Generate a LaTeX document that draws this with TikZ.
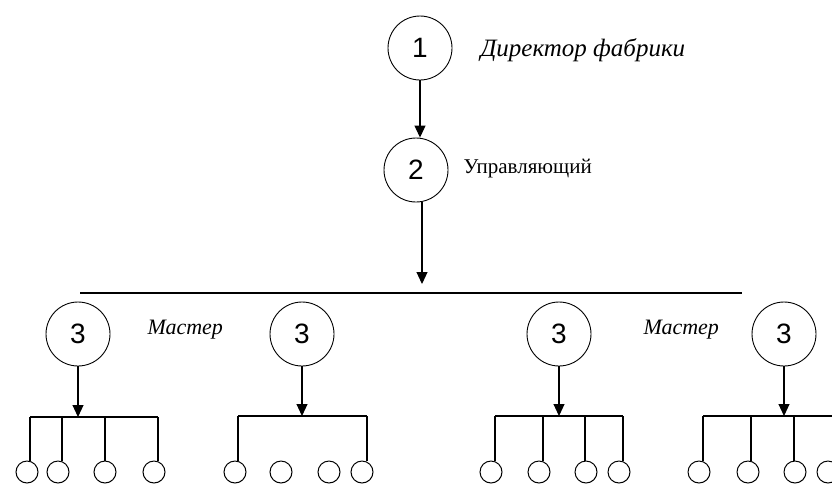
\documentclass[tikz,border=0pt]{standalone}
\usepackage{fontspec}
\setmainfont{Liberation Serif}
\newfontfamily\numfont{Liberation Sans}
\usetikzlibrary{arrows.meta}
\begin{document}
\begin{tikzpicture}[x=1pt,y=-1pt,
  line width=1.1pt,
  bigcirc/.style={circle,draw,line width=0.9pt,minimum size=64pt,inner sep=0pt,
    font=\numfont\fontsize{28}{28}\selectfont},
  smallcirc/.style={circle,draw,line width=1pt,minimum size=22pt,inner sep=0pt},
  arr/.style={-{Triangle[length=12pt,width=11pt]}},
  rolelabel/.style={anchor=west,inner sep=0pt,font=\itshape\fontsize{22}{22}\selectfont},
  plainlabel/.style={anchor=west,inner sep=0pt,font=\fontsize{21}{21}\selectfont}]
\useasboundingbox (0,0) rectangle (832,483);

% top of the hierarchy
\node[bigcirc] (n1) at (420,48) {1};
\node[rolelabel,font=\itshape\fontsize{25}{25}\selectfont] (l1) at (480,50) {Директор фабрики};
\node[bigcirc] (n2) at (416,170) {2};
\node[plainlabel] (l2) at (463,169) {Управляющий};
\draw[arr] (n1.south) -- (n1.south |- n2.north);
\coordinate (a2) at (422,284);
\draw[arr] (n2.south -| a2) -- (a2);

% common bus
\coordinate (busL) at (80,293);
\coordinate (busR) at (742,293);
\draw (busL) -- (busR);

% masters
\node[bigcirc] (m1) at (78,334) {3};
\node[bigcirc] (m2) at (302,334) {3};
\node[bigcirc] (m3) at (559,334) {3};
\node[bigcirc] (m4) at (784,334) {3};
\node[rolelabel] (lm1) at (147,330) {Мастер};
\node[rolelabel] (lm2) at (643,330) {Мастер};

% bars under each master
\coordinate (b1L) at (30,417);  \coordinate (b1R) at (158,417);
\coordinate (b2L) at (238,416); \coordinate (b2R) at (367,416);
\coordinate (b3L) at (495,416); \coordinate (b3R) at (623,416);
\coordinate (b4L) at (703,416); \coordinate (b4R) at (840,416);
\draw (b1L) -- (b1R);
\draw (b2L) -- (b2R);
\draw (b3L) -- (b3R);
\draw (b4L) -- (b4R);
\draw[arr] (m1.south) -- (m1.south |- b1L);
\draw[arr] (m2.south) -- (m2.south |- b2L);
\draw[arr] (m3.south) -- (m3.south |- b3L);
\draw[arr] (m4.south) -- (m4.south |- b4L);

% workers
\foreach \name/\x in {w11/27,w12/58,w13/105,w14/154,
                      w21/235,w22/281,w23/329,w24/362,
                      w31/491,w32/539,w33/586,w34/619,
                      w41/699,w42/748,w43/795,w44/828}
  \node[smallcirc] (\name) at (\x,472) {};

% drops from the bars to the workers
\foreach \w/\x/\b in {w11/30/b1L,w12/62/b1L,w13/105/b1L,w14/158/b1L,
                      w21/238/b2L,w24/367/b2L,
                      w31/495/b3L,w32/543/b3L,w33/585/b3L,w34/623/b3L,
                      w41/703/b4L,w42/751/b4L,w43/794/b4L}
  \draw (\x,0 |- \b) -- (\x,0 |- \w.north);
\end{tikzpicture}
\end{document}
